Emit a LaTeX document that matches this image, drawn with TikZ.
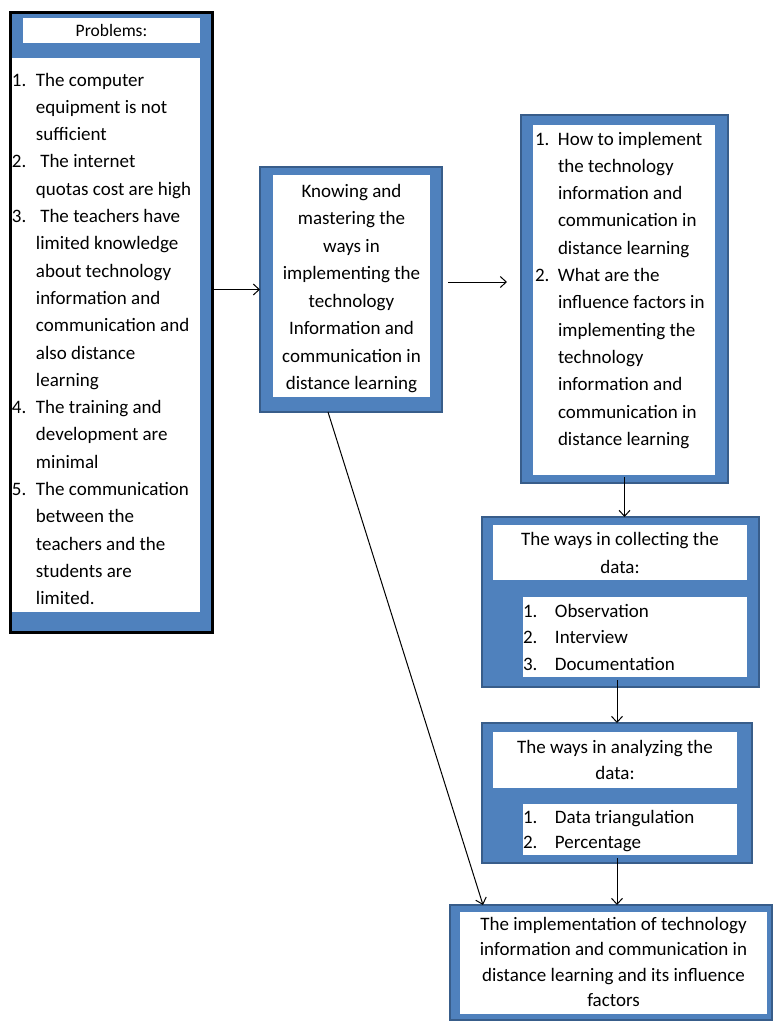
\documentclass[tikz,border=0pt]{standalone}
\usepackage{fontspec}
\setmainfont{Carlito}
\usetikzlibrary{arrows.meta}

\definecolor{frameblue}{HTML}{4F81BD}
\definecolor{frameedge}{HTML}{385D8A}

\newlength{\numw}
\newcommand{\nr}[1]{\makebox[\numw][l]{#1}}
\newcommand{\ind}{\hspace*{\numw}}
\newcommand{\bodyfont}{\fontsize{19}{27.3}\selectfont}

\tikzset{
  frame/.style={draw=frameedge, fill=frameblue, line width=1.2pt, inner sep=0pt, outer sep=0pt, anchor=north west},
  panel/.style={fill=white, inner sep=0pt, outer sep=0pt, anchor=north west, font=\bodyfont},
  nrw/.code={\setlength{\numw}{#1}},
  flow/.style={-{Straight Barb[length=6pt,width=11pt]}, line width=1pt},
}

\begin{document}
\begin{tikzpicture}[x=1pt,y=-1pt]

      \useasboundingbox (0,0) rectangle (774,1021);

      % blue frames
      \node[frame, draw=black, line width=3pt, minimum width=202pt, minimum height=620pt] (prob) at (10,12) {};
      \node[frame, minimum width=182pt, minimum height=245pt] (know)  at (260,167) {};
      \node[frame, minimum width=207pt, minimum height=368pt] (quest) at (521,115) {};
      \node[frame, minimum width=277pt, minimum height=170pt] (coll)  at (482,517) {};
      \node[frame, minimum width=270pt, minimum height=140pt] (anal)  at (482,723) {};
      \node[frame, minimum width=322pt, minimum height=115pt] (impl)  at (450,905) {};

      % white panels with the texts
      \node[panel, minimum width=177pt, minimum height=25pt, font=\fontsize{17.5}{20}\selectfont] (probtitle) at (23,18) {Problems:};
      \node[panel, nrw=24pt, text width=188pt, align=flush left, text height=28pt, text depth=526pt] (problist) at (12,58) {%
        \nr{1.}The computer\\
        \ind equipment is not\\
        \ind sufficient\\
        \nr{2.}\ The internet\\
        \ind quotas cost are high\\
        \nr{3.}\ The teachers have\\
        \ind limited knowledge\\
        \ind about technology\\
        \ind information and\\
        \ind communication and\\
        \ind also distance\\
        \ind learning\\
        \nr{4.}The training and\\
        \ind development are\\
        \ind minimal\\
        \nr{5.}The communication\\
        \ind between the\\
        \ind teachers and the\\
        \ind students are\\
        \ind limited.};

      \node[panel, text width=157pt, align=flush center, text height=22pt, text depth=200pt, font=\fontsize{19}{27.5}\selectfont] (knowtext) at (273,175)
        {Knowing and\\ mastering the\\ ways in\\ implementing the\\ technology\\ Information and\\ communication in\\ distance learning};

      \node[panel, nrw=23pt, inner xsep=2pt, text width=178pt, align=flush left, text height=20pt, text depth=330pt] (questtext) at (533,125) {%
        \nr{1.}How to implement\\
        \ind the technology\\
        \ind information and\\
        \ind communication in\\
        \ind distance learning\\
        \nr{2.}What are the\\
        \ind influence factors in\\
        \ind implementing the\\
        \ind technology\\
        \ind information and\\
        \ind communication in\\
        \ind distance learning};

      \node[panel, minimum width=254pt, minimum height=55pt, align=center, font=\fontsize{19}{28}\selectfont] (colltitle) at (493,525)
        {The ways in collecting the\\ data:};
      \node[panel, nrw=32pt, text width=224pt, align=flush left, text height=20pt, text depth=60pt, font=\fontsize{19}{26.5}\selectfont] (colllist) at (523,597)
        {\nr{1.}Observation\\ \nr{2.}Interview\\ \nr{3.}Documentation};

      \node[panel, minimum width=244pt, minimum height=56pt, align=center, font=\fontsize{19}{26}\selectfont] (analtitle) at (493,732)
        {The ways in analyzing the\\ data:};
      \node[panel, nrw=32pt, text width=214pt, align=flush left, text height=19pt, text depth=32pt, font=\fontsize{19}{25}\selectfont] (anallist) at (523,804)
        {\nr{1.}Data triangulation\\ \nr{2.}Percentage};

      \node[panel, text width=307pt, align=flush center, text height=18pt, text depth=84pt, font=\fontsize{19}{25.5}\selectfont] (impltext) at (460,912)
        {The implementation of technology\\ information and communication in\\ distance learning and its influence\\ factors};

      \coordinate (gapL) at (448,282);
      \coordinate (gapR) at (507,282);

      % arrows
      \begin{scope}[every edge/.style={draw, flow}]
        \path (prob.east |- know) edge (know);
        \path (gapL) edge (gapR);
        \path (quest.south) edge[shorten <=-6pt] (quest.south |- coll.north);
        \path (anal.north |- coll.south) edge[shorten <=-7pt] (anal.north);
        \path (anal.south) edge[shorten <=-5pt] (anal.south |- impl.north);
        \path ([xshift=-23pt]know.south) edge ([xshift=33pt]impl.north west);
      \end{scope}

\end{tikzpicture}
\end{document}
